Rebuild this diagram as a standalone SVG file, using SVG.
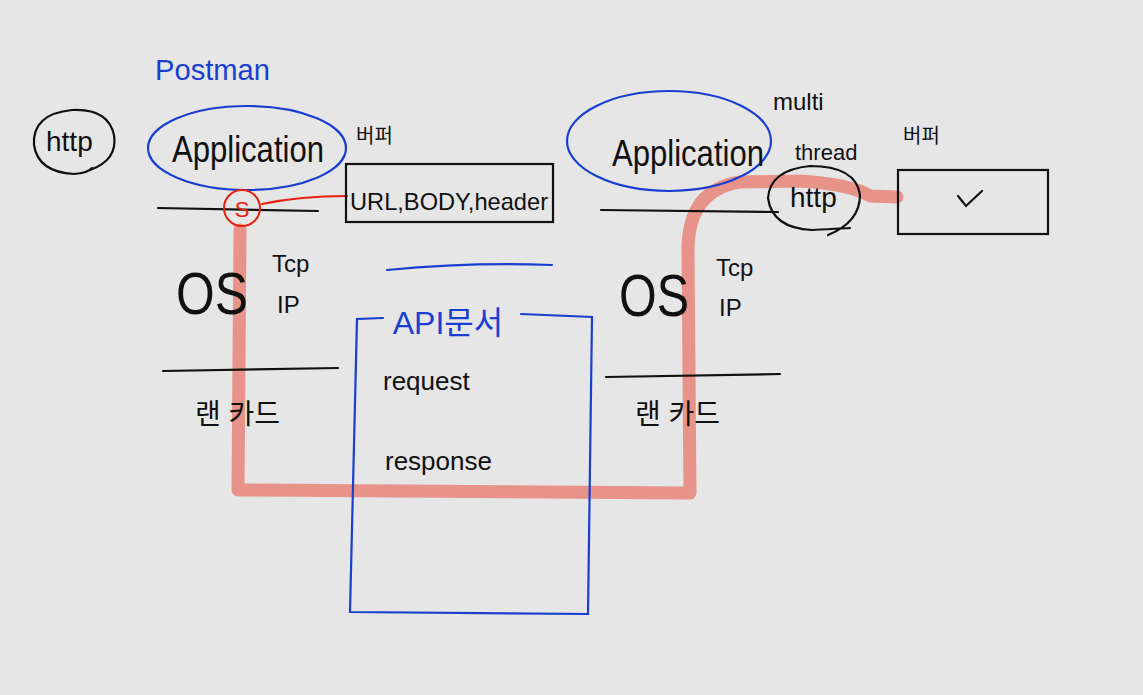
<svg xmlns="http://www.w3.org/2000/svg" width="1143" height="695" viewBox="0 0 1143 695">
<style>
.t{font-family:"Liberation Sans","Noto Sans CJK KR",sans-serif;fill:#111}
.b{fill:#1a3fd0}
.ink{fill:none;stroke:#111;stroke-width:2.2;stroke-linecap:round}
.blue{fill:none;stroke:#1a3fd0;stroke-width:2.2;stroke-linecap:round}
.red{fill:none;stroke:#e8210f;stroke-width:2;stroke-linecap:round}
.path{fill:none;stroke:#e88a7e;stroke-width:13;stroke-linejoin:round;stroke-linecap:round;opacity:0.9}
</style>
<rect width="1143" height="695" fill="#e6e6e6"/>
<g id="connectors">
<path class="path" d="M240,230 L238,490 L690,493 L688,250 Q688,190 740,182 L800,181 Q850,184 870,196 L897,197"/>
<path class="red" d="M262,204 Q300,196 347,196"/>
</g>
<g id="postman"><text class="t b" x="155" y="80" font-size="30" textLength="115" lengthAdjust="spacingAndGlyphs">Postman</text></g>
<g id="http-left">
<path class="ink" d="M90,170 Q118,160 114,135 Q108,108 72,110 Q32,114 34,145 Q38,172 74,174 Q88,173 92,168"/>
<text class="t" x="46" y="151" font-size="28">http</text>
</g>
<g id="app-left">
<ellipse class="blue" cx="247" cy="148" rx="99" ry="42"/>
<text class="t" x="172" y="162" font-size="36" textLength="152" lengthAdjust="spacingAndGlyphs">Application</text>
</g>
<g id="buffer-left"><text class="t" x="356" y="143" font-size="20">버퍼</text></g>
<g id="box-left">
<rect class="ink" x="346" y="164" width="207" height="58"/>
<text class="t" x="350" y="210" font-size="24" textLength="198" lengthAdjust="spacingAndGlyphs">URL,BODY,header</text>
</g>
<g id="line-left-top"><path class="ink" d="M158,208 L318,211"/></g>
<g id="socket">
<circle class="red" cx="242" cy="208" r="18"/>
<text class="t" x="242" y="217" font-size="22" text-anchor="middle" style="fill:#e8210f">S</text>
</g>
<g id="os-left">
<text class="t" x="176" y="314" font-size="60" textLength="72" lengthAdjust="spacingAndGlyphs">OS</text>
<text class="t" x="272" y="272" font-size="24">Tcp</text>
<text class="t" x="277" y="313" font-size="24">IP</text>
</g>
<g id="line-left-mid"><path class="ink" d="M163,371 L338,368"/></g>
<g id="lan-left"><text class="t" x="195" y="424" font-size="28">랜 카드</text></g>
<g id="blue-line"><path class="blue" d="M387,270 Q470,262 552,265"/></g>
<g id="api-doc">
<path class="blue" d="M383,318 L357,319 L350,612 L588,614 L592,317 L521,314"/>
<text class="t b" x="448" y="334" font-size="32" text-anchor="middle" style="fill:#1a3fd0">API문서</text>
<text class="t" x="383" y="390" font-size="26">request</text>
<text class="t" x="385" y="470" font-size="26">response</text>
</g>
<g id="app-right">
<ellipse class="blue" cx="669" cy="141" rx="102" ry="50"/>
<text class="t" x="612" y="166" font-size="36" textLength="152" lengthAdjust="spacingAndGlyphs">Application</text>
</g>
<g id="multi-thread">
<text class="t" x="773" y="110" font-size="24">multi</text>
<text class="t" x="795" y="160" font-size="22">thread</text>
</g>
<g id="line-right-top"><path class="ink" d="M601,210 L778,212"/></g>
<g id="http-right">
<path class="ink" d="M828,235 Q860,222 860,195 Q856,166 810,166 Q770,170 768,198 Q772,228 812,230 Q848,228 850,228"/>
<text class="t" x="790" y="207" font-size="28">http</text>
</g>
<g id="buffer-right"><text class="t" x="903" y="143" font-size="20">버퍼</text></g>
<g id="box-right">
<rect class="ink" x="898" y="170" width="150" height="64"/>
<path class="ink" d="M958,196 L966,206 L982,191"/>
</g>
<g id="os-right">
<text class="t" x="619" y="316" font-size="60" textLength="70" lengthAdjust="spacingAndGlyphs">OS</text>
<text class="t" x="716" y="276" font-size="24">Tcp</text>
<text class="t" x="719" y="316" font-size="24">IP</text>
</g>
<g id="line-right-mid"><path class="ink" d="M606,377 L780,374"/></g>
<g id="lan-right"><text class="t" x="635" y="424" font-size="28">랜 카드</text></g>
</svg>
